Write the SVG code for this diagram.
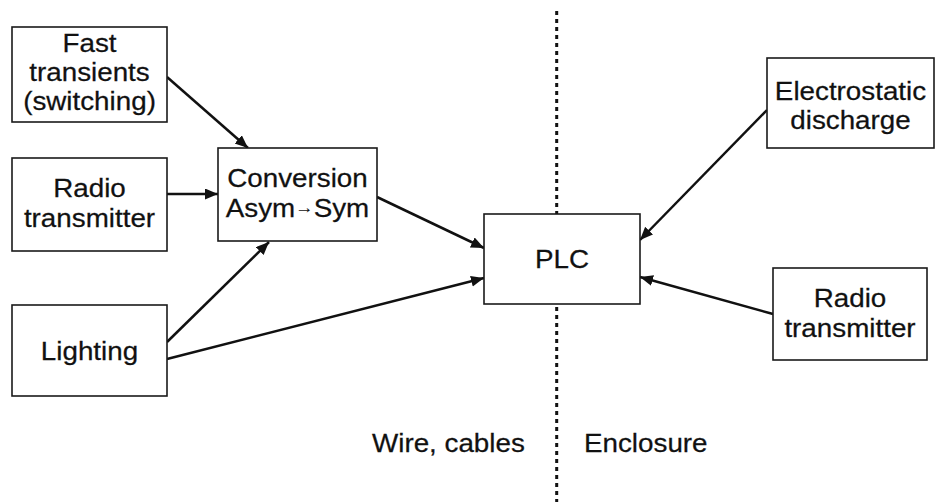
<svg xmlns="http://www.w3.org/2000/svg" width="936" height="504" viewBox="0 0 936 504">
  <defs>
    <style>
      .box { fill: #ffffff; stroke: #1a1a1a; stroke-width: 1.6; }
      .t { font-family: "Liberation Sans", Arial, sans-serif; font-size: 25.5px; fill: #111111; stroke: #111111; stroke-width: 0.25; text-anchor: middle; }
      .lbl { font-family: "Liberation Sans", Arial, sans-serif; font-size: 25.5px; fill: #111111; stroke: #111111; stroke-width: 0.25; }
      .edge { fill: none; stroke: #111111; stroke-width: 2.5; marker-end: url(#head); }
      .divider { stroke: #111111; stroke-width: 3; stroke-dasharray: 4 4; }
    </style>
    <marker id="head" markerUnits="userSpaceOnUse" markerWidth="14" markerHeight="12" refX="13" refY="5.5" orient="auto">
      <path d="M0,0 L13,5.5 L0,11 Z" fill="#111111"/>
    </marker>
  </defs>

  <rect width="936" height="504" fill="#ffffff"/>

  <!-- boundary between wiring and enclosure -->
  <line class="divider" x1="556.7" y1="11" x2="556.7" y2="502"/>

  <g id="connectors">
    <line class="edge" x1="167" y1="77" x2="248" y2="148"/>
    <line class="edge" x1="167" y1="194" x2="218" y2="194"/>
    <line class="edge" x1="167" y1="342" x2="269" y2="242"/>
    <line class="edge" x1="167" y1="359" x2="484" y2="278"/>
    <line class="edge" x1="377" y1="197" x2="484" y2="248"/>
    <line class="edge" x1="767" y1="110" x2="640" y2="240"/>
    <line class="edge" x1="773" y1="314" x2="640" y2="277"/>
  </g>

  <g id="fast-transients">
    <rect class="box" x="12" y="27" width="155" height="95"/>
    <text class="t" transform="translate(89.5 52) scale(1.09 1)">Fast</text>
    <text class="t" transform="translate(89.5 81) scale(1.09 1)">transients</text>
    <text class="t" transform="translate(89.5 110) scale(1.09 1)">(switching)</text>
  </g>

  <g id="radio-transmitter-wire">
    <rect class="box" x="12" y="158" width="155" height="93"/>
    <text class="t" transform="translate(89.5 197) scale(1.09 1)">Radio</text>
    <text class="t" transform="translate(89.5 227) scale(1.09 1)">transmitter</text>
  </g>

  <g id="lighting">
    <rect class="box" x="12" y="305" width="155" height="91"/>
    <text class="t" transform="translate(89.5 360) scale(1.09 1)">Lighting</text>
  </g>

  <g id="conversion">
    <rect class="box" x="218" y="148" width="159" height="93"/>
    <text class="t" transform="translate(297.5 187) scale(1.09 1)">Conversion</text>
    <text class="t" transform="translate(297.5 217) scale(1.09 1)">Asym<tspan font-size="17" stroke-width="0" dy="-4">→</tspan><tspan dy="4">Sym</tspan></text>
  </g>

  <g id="plc">
    <rect class="box" x="484" y="214" width="156" height="90"/>
    <text class="t" transform="translate(562 268) scale(1.09 1)">PLC</text>
  </g>

  <g id="electrostatic-discharge">
    <rect class="box" x="767" y="58" width="167" height="90"/>
    <text class="t" transform="translate(850.5 100) scale(1.09 1)">Electrostatic</text>
    <text class="t" transform="translate(850.5 129) scale(1.09 1)">discharge</text>
  </g>

  <g id="radio-transmitter-enclosure">
    <rect class="box" x="773" y="268" width="154" height="92"/>
    <text class="t" transform="translate(850 307) scale(1.09 1)">Radio</text>
    <text class="t" transform="translate(850 337) scale(1.09 1)">transmitter</text>
  </g>

  <g id="region-labels">
    <text class="lbl" transform="translate(372 452) scale(1.09 1)">Wire, cables</text>
    <text class="lbl" transform="translate(584 452) scale(1.09 1)">Enclosure</text>
  </g>
</svg>
